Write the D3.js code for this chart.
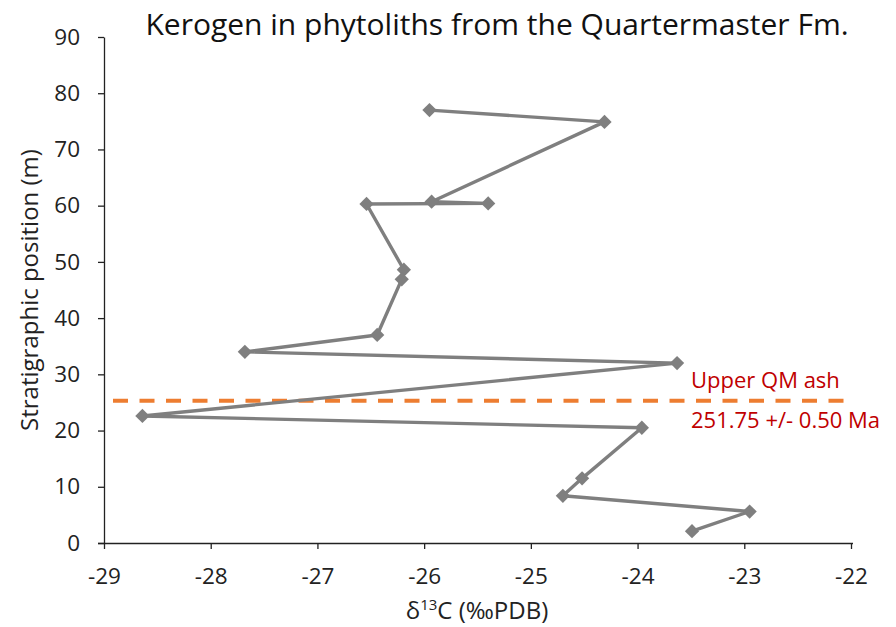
<!DOCTYPE html>
<html>
<head>
<meta charset="utf-8">
<script src="https://cdn.jsdelivr.net/npm/d3@7/dist/d3.min.js"></script>
<style>
  body { margin: 0; background: #fff; }
  text { font-family: "Open Sans", "Noto Sans", sans-serif; }
</style>
</head>
<body>
<div id="chart"></div>
<script>
var margin = {top: 37, right: 45, bottom: 84, left: 104},
    W = 896, H = 627,
    width = W - margin.left - margin.right,
    height = H - margin.top - margin.bottom;

/* samples, top of section first */
var position = [77.0, 74.9, 60.7, 60.4, 60.3, 48.6, 46.9, 37.0, 34.0, 32.0, 22.6, 20.5, 11.5, 8.4, 5.6, 2.1];
var delta13C = [-25.95, -24.31, -25.93, -25.40, -26.54, -26.19, -26.21, -26.44, -27.68, -23.63, -28.64, -23.96, -24.52, -24.70, -22.95, -23.49];
var xTicks = [-29, -28, -27, -26, -25, -24, -23, -22];
var yTicks = [0, 10, 20, 30, 40, 50, 60, 70, 80, 90];
var ashLevel = 25.3;
var ashLabels = ["Upper QM ash", "251.75 +/- 0.50 Ma"];

var svg = d3.select("#chart").append("svg")
    .attr("width", W).attr("height", H);

var g = svg.append("g")
    .attr("transform", "translate(" + margin.left + "," + margin.top + ")");

var x = d3.scaleLinear().domain([-29, -22]).range([0, width]);
var y = d3.scaleLinear().domain([0, 90]).range([height, 0]);

// axes (plain hyphen for negatives, like the original)
var plain = function(d) { return String(d); };

var xAxis = g.append("g")
    .attr("transform", "translate(0," + height + ")")
    .call(d3.axisBottom(x).tickValues(xTicks).tickFormat(plain)
        .tickSize(6).tickSizeOuter(0).tickPadding(19));
xAxis.select(".domain").attr("d", "M-6,0.5H" + (width + 2));

var yAxis = g.append("g")
    .call(d3.axisLeft(y).tickValues(yTicks).tickFormat(plain)
        .tickSize(6).tickSizeOuter(0).tickPadding(18));

svg.selectAll(".tick text").attr("font-size", 22.5).attr("fill", "#222")
    .style("font-family", "'Open Sans', sans-serif");
svg.selectAll(".domain, .tick line").attr("stroke", "#222").attr("stroke-width", 1.3);

// ash bed
g.append("line")
    .attr("x1", 9).attr("x2", width + 2)
    .attr("y1", y(ashLevel)).attr("y2", y(ashLevel))
    .attr("stroke", "#ed7d31").attr("stroke-width", 4)
    .attr("stroke-dasharray", "15,11.5");

g.selectAll(".ash-label").data(ashLabels).enter().append("text")
    .attr("class", "ash-label")
    .attr("x", 587)
    .attr("y", function(d, i) { return y(ashLevel) + (i == 0 ? -13 : 27); })
    .attr("font-size", 22)
    .attr("fill", "#c00000")
    .text(function(d) { return d; });

// data line
var pts = position.map(function(p, i) { return [delta13C[i], p]; });

g.append("path")
    .datum(pts)
    .attr("fill", "none")
    .attr("stroke", "#7f7f7f")
    .attr("stroke-width", 3.4)
    .attr("stroke-linejoin", "round")
    .attr("d", d3.line()
        .x(function(d) { return x(d[0]); })
        .y(function(d) { return y(d[1]); }));

g.selectAll(".pt").data(pts).enter().append("path")
    .attr("class", "pt")
    .attr("transform", function(d) { return "translate(" + x(d[0]) + "," + y(d[1]) + ")"; })
    .attr("d", d3.symbol().type(d3.symbolDiamond2).size(130))
    .attr("fill", "#7f7f7f");

// titles
svg.append("text")
    .attr("x", 497).attr("y", 35)
    .attr("text-anchor", "middle")
    .attr("font-size", 30)
    .attr("fill", "#111")
    .text("Kerogen in phytoliths from the Quartermaster Fm.");

var xt = svg.append("text")
    .attr("x", 477).attr("y", 619)
    .attr("text-anchor", "middle")
    .attr("font-size", 24)
    .attr("fill", "#222");
xt.append("tspan").text("δ");
xt.append("tspan").attr("dy", -9).attr("font-size", 15).text("13");
xt.append("tspan").attr("dy", 9).text("C (‰PDB)");

svg.append("text")
    .attr("transform", "translate(38," + (margin.top + height / 2) + ") rotate(-90)")
    .attr("text-anchor", "middle")
    .attr("font-size", 24)
    .attr("fill", "#222")
    .text("Stratigraphic position (m)");
</script>
</body>
</html>
